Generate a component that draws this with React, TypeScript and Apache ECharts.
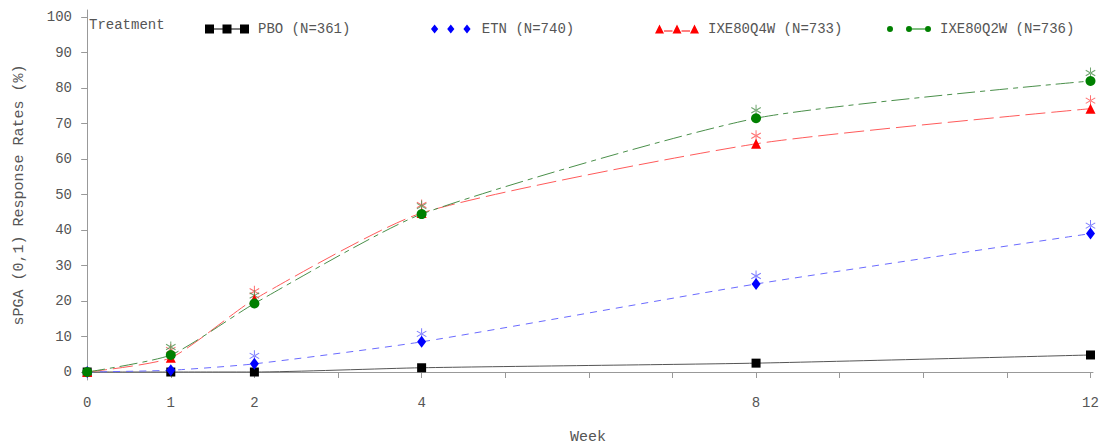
import React, { useEffect, useRef } from "react";
import * as echarts from "echarts";

const weeks = [0, 1, 2, 4, 8, 12];
const xLabelWeeks = [0, 1, 2, 4, 8, 12];
const xTickWeeks = [0, 1, 2, 3, 4, 5, 6, 7, 8, 9, 10, 11, 12];
const yTicks = [0, 10, 20, 30, 40, 50, 60, 70, 80, 90, 100];

const pbo = [0, 0, 0, 1.2, 2.5, 4.8];
const etn = [0, 0.5, 2.3, 8.5, 24.8, 39.0];
const ixeQ4W = [0, 4.0, 20.5, 44.8, 64.3, 74.2];
const ixeQ2W = [0, 4.8, 19.3, 44.5, 71.5, 82.0];

// weeks with significance marker (*)
const sigEtn = [2, 4, 8, 12];
const sigQ4W = [1, 2, 4, 8, 12];
const sigQ2W = [1, 2, 4, 8, 12];

const names = ["PBO (N=361)", "ETN (N=740)", "IXE80Q4W (N=733)", "IXE80Q2W (N=736)"];

const FONT = "Liberation Mono";
const TXT = "#555";
const AX = "#999";

const ASTERISK =
  "path://M-0.9,-10L0.9,-10L0.9,10L-0.9,10Z M8.21,5.78L9.11,4.22L-8.21,-5.78L-9.11,-4.22Z M9.11,-4.22L8.21,-5.78L-9.11,4.22L-8.21,5.78Z";

const ICON_SQ = "path://M0,0h9v9h-9z M17.5,0h9v9h-9z M35,0h9v9h-9z M9,4h8.5v1h-8.5z M26.5,4h8.5v1h-8.5z";
const ICON_DI = "path://M4,0L8,5L4,10L0,5Z M22,0L26,5L22,10L18,5Z M40,0L44,5L40,10L36,5Z";
const ICON_TR = "path://M4.5,0L9,9L0,9Z M22,0L26.5,9L17.5,9Z M39.5,0L44,9L35,9Z M9,6h8.5v1h-8.5z M26.5,6h8.5v1h-8.5z";
const ICON_CI =
  "path://M0,4a3,3 0 1,0 6,0a3,3 0 1,0 -6,0Z M19,4a3,3 0 1,0 6,0a3,3 0 1,0 -6,0Z M38,4a3,3 0 1,0 6,0a3,3 0 1,0 -6,0Z M25,3.5h13v1h-13z";

function pairs(vals: number[]) {
  return weeks.map((w, i) => [w, vals[i]]);
}
function sigPairs(vals: number[], sig: number[]) {
  return weeks.map((w, i) => [w, vals[i]]).filter((p) => sig.includes(p[0]));
}

export default function App() {
  const ref = useRef<HTMLDivElement>(null);
  useEffect(() => {
    if (!ref.current) return;
    const chart = echarts.init(ref.current, null, { renderer: "svg" });
    const lineSeries = (
      name: string,
      vals: number[],
      symbol: string,
      size: number | number[],
      mColor: string,
      lColor: string,
      dash: any
    ) => ({
      type: "line",
      name,
      data: pairs(vals),
      smooth: 0.2,
      symbol,
      symbolSize: size,
      showAllSymbol: true,
      itemStyle: { color: mColor },
      lineStyle: { color: lColor, width: 1, type: dash },
      z: 3,
    });
    const starSeries = (name: string, vals: number[], sig: number[], color: string) => ({
      type: "scatter",
      name: name + "_sig",
      data: sigPairs(vals, sig),
      symbol: ASTERISK,
      symbolSize: [10, 11],
      symbolOffset: [0, -8],
      itemStyle: { color },
      z: 2,
    });
    const legendCommon = {
      top: 17,
      itemWidth: 44,
      itemHeight: 9,
      textStyle: { fontFamily: FONT, fontSize: 14, color: TXT, padding: [0, 0, 0, 4] },
      selectedMode: false,
    };
    chart.setOption({
      animation: false,
      grid: {
        left: 83,
        right: 6,
        top: 10,
        bottom: 67,
        containLabel: false,
        outerBoundsMode: "none",
      },
      xAxis: {
        type: "value",
        min: -0.05,
        max: 12.03,
        name: "Week",
        nameLocation: "middle",
        nameGap: 50,
        nameTextStyle: { fontFamily: FONT, fontSize: 15, color: TXT },
        axisLine: { show: true, lineStyle: { color: AX } },
        axisTick: { show: true, length: 6, customValues: xTickWeeks, lineStyle: { color: AX } },
        axisLabel: {
          customValues: xLabelWeeks,
          fontFamily: FONT,
          fontSize: 14,
          color: TXT,
          margin: 16,
        },
        splitLine: { show: false },
      },
      yAxis: {
        type: "value",
        min: -2.25,
        max: 102,
        name: "sPGA (0,1) Response Rates (%)",
        nameLocation: "middle",
        nameGap: 56,
        nameTextStyle: { fontFamily: FONT, fontSize: 15, color: TXT },
        axisLine: { show: true, lineStyle: { color: AX } },
        axisTick: { show: true, length: 6, customValues: yTicks, lineStyle: { color: AX } },
        axisLabel: {
          customValues: yTicks,
          fontFamily: FONT,
          fontSize: 14,
          color: TXT,
          margin: 11,
        },
        splitLine: { show: false },
      },
      graphic: [
        {
          type: "text",
          left: 89,
          top: 18,
          style: { text: "Treatment", font: `14px "${FONT}"`, fill: TXT },
        },
      ],
      legend: [
        { ...legendCommon, left: 200, data: [{ name: names[0], icon: ICON_SQ }] },
        { ...legendCommon, left: 426, data: [{ name: names[1], icon: ICON_DI }] },
        { ...legendCommon, left: 650, data: [{ name: names[2], icon: ICON_TR }] },
        { ...legendCommon, left: 882, data: [{ name: names[3], icon: ICON_CI }] },
      ],
      series: [
        lineSeries(names[0], pbo, "rect", 9, "#000000", "#555555", "solid"),
        lineSeries(names[1], etn, "diamond", [9, 12], "#0000ff", "#6a6aff", [7, 6]),
        lineSeries(names[2], ixeQ4W, "triangle", 10, "#ff0000", "#ff5a5a", [20, 6]),
        lineSeries(names[3], ixeQ2W, "circle", 10, "#008000", "#4a8f4a", [18, 5, 5, 5]),
        starSeries(names[1], etn, sigEtn, "#5a5aff"),
        starSeries(names[2], ixeQ4W, sigQ4W, "#ff4a4a"),
        starSeries(names[3], ixeQ2W, sigQ2W, "#4a8f4a"),
      ],
    });
    return () => chart.dispose();
  }, []);
  return (
    <div
      ref={ref}
      style={{ position: "absolute", left: 0, top: 0, width: 1099, height: 447, background: "#fff" }}
    />
  );
}
